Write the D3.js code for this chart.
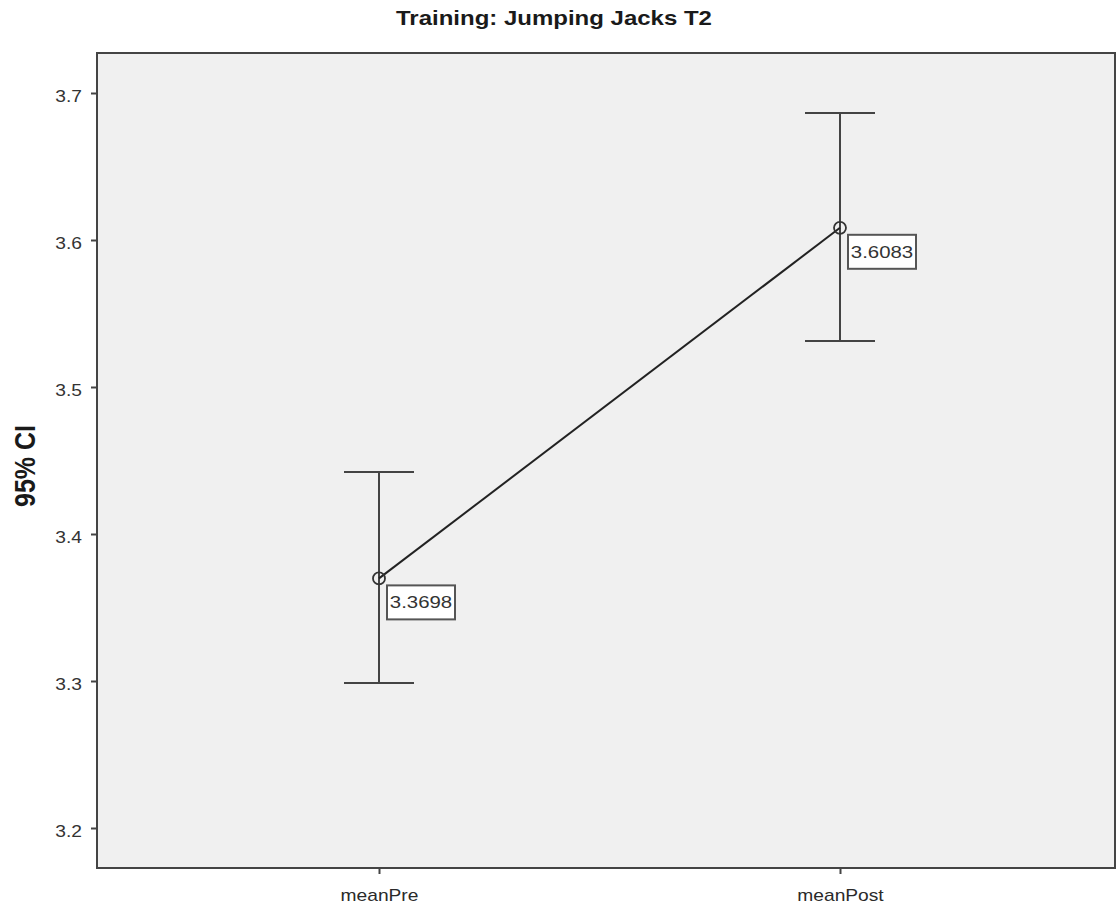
<!DOCTYPE html>
<html>
<head>
<meta charset="utf-8">
<script src="https://cdn.jsdelivr.net/npm/d3@7"></script>
<style>
  html, body { margin: 0; padding: 0; background: #fff; }
  svg { display: block; }
</style>
</head>
<body>
<svg id="chart" width="1116" height="907"></svg>
<script>
// Mean and 95% confidence interval per measurement
const categories = ["meanPre", "meanPost"];
const means = [3.3698, 3.6083];
const ciLower = [3.2986, 3.5313];
const ciUpper = [3.4422, 3.6864];
const yTicks = [3.2, 3.3, 3.4, 3.5, 3.6, 3.7];

const FONT = "Arial, 'Liberation Sans', sans-serif";
const SX = 1.2; // text is drawn horizontally widened

const svg = d3.select("#chart");
const frame = { left: 97, right: 1115, top: 53, bottom: 868 };

const x = d3.scalePoint()
  .domain(categories)
  .range([379, 840]);

const y = d3.scaleLinear()
  .domain([3.2, 3.7])
  .range([828, 93]);

// widen a text element around its own anchor point
function widen(sel) {
  sel.each(function () {
    const t = d3.select(this);
    const tx = +t.attr("x") || 0;
    const ty = +t.attr("y") || 0;
    t.attr("x", 0).attr("y", 0)
      .attr("transform", `translate(${tx},${ty}) scale(${SX},1)`);
  });
}

// plot background and frame
svg.append("rect")
  .attr("x", frame.left).attr("y", frame.top)
  .attr("width", frame.right - frame.left)
  .attr("height", frame.bottom - frame.top)
  .attr("fill", "#f0f0f0")
  .attr("stroke", "#444").attr("stroke-width", 2);

// title
svg.append("text")
  .attr("x", 554).attr("y", 24.5)
  .attr("text-anchor", "middle")
  .attr("font-family", FONT)
  .attr("font-weight", "bold").attr("font-size", 20)
  .attr("fill", "#1a1a1a")
  .text("Training: Jumping Jacks T2")
  .call(widen);

// y axis
const yAxis = d3.axisLeft(y)
  .tickValues(yTicks)
  .tickFormat(d3.format(".1f"))
  .tickSize(6).tickPadding(3);
const gy = svg.append("g")
  .attr("transform", `translate(${frame.left},0)`)
  .call(yAxis);
gy.select(".domain").remove();
gy.selectAll(".tick line").attr("stroke", "#444").attr("stroke-width", 2);
gy.selectAll(".tick text")
  .attr("font-family", FONT)
  .attr("font-size", 16).attr("fill", "#333")
  .attr("x", -15).attr("y", 3.5)
  .call(widen);

// x axis
const xAxis = d3.axisBottom(x).tickSize(6).tickPadding(10);
const gx = svg.append("g")
  .attr("transform", `translate(0,${frame.bottom})`)
  .call(xAxis);
gx.select(".domain").remove();
gx.selectAll(".tick line").attr("stroke", "#444").attr("stroke-width", 2);
gx.selectAll(".tick text")
  .attr("font-family", FONT)
  .attr("font-size", 16).attr("fill", "#2a2a2a")
  .attr("dy", null).attr("y", 33)
  .call(widen);

// y axis title
svg.append("text")
  .attr("transform", `translate(35,466) scale(${SX},1) rotate(-90)`)
  .attr("text-anchor", "middle")
  .attr("font-family", FONT)
  .attr("font-weight", "bold").attr("font-size", 25)
  .attr("fill", "#1a1a1a")
  .text("95% CI");

const data = categories.map((c, i) => ({
  cat: c, mean: means[i], lo: ciLower[i], hi: ciUpper[i]
}));

// confidence interval bars
const capHalf = 35;
const bars = svg.append("g").attr("stroke", "#444").attr("stroke-width", 2);
bars.selectAll("line.stem").data(data).join("line")
  .attr("class", "stem")
  .attr("x1", d => x(d.cat)).attr("x2", d => x(d.cat))
  .attr("y1", d => y(d.lo)).attr("y2", d => y(d.hi));
bars.selectAll("line.capHi").data(data).join("line")
  .attr("class", "capHi")
  .attr("x1", d => x(d.cat) - capHalf).attr("x2", d => x(d.cat) + capHalf)
  .attr("y1", d => y(d.hi)).attr("y2", d => y(d.hi));
bars.selectAll("line.capLo").data(data).join("line")
  .attr("class", "capLo")
  .attr("x1", d => x(d.cat) - capHalf).attr("x2", d => x(d.cat) + capHalf)
  .attr("y1", d => y(d.lo)).attr("y2", d => y(d.lo));

// line connecting the means
const line = d3.line().x(d => x(d.cat)).y(d => y(d.mean));
svg.append("path")
  .datum(data)
  .attr("d", line)
  .attr("fill", "none")
  .attr("stroke", "#222").attr("stroke-width", 2);

// mean markers
svg.selectAll("circle.mean").data(data).join("circle")
  .attr("class", "mean")
  .attr("cx", d => x(d.cat)).attr("cy", d => y(d.mean))
  .attr("r", 6)
  .attr("fill", "none")
  .attr("stroke", "#333").attr("stroke-width", 1.8);

// value labels
const labels = svg.selectAll("g.vlabel").data(data).join("g")
  .attr("class", "vlabel")
  .attr("transform", d => `translate(${x(d.cat) + 8},${y(d.mean) + 7})`);
labels.append("rect")
  .attr("width", 68).attr("height", 34)
  .attr("fill", "#fff")
  .attr("stroke", "#555").attr("stroke-width", 2);
labels.append("text")
  .attr("x", 34).attr("y", 23)
  .attr("text-anchor", "middle")
  .attr("font-family", FONT)
  .attr("font-size", 17).attr("fill", "#333")
  .text(d => d.mean.toFixed(4))
  .call(widen);
</script>
</body>
</html>
